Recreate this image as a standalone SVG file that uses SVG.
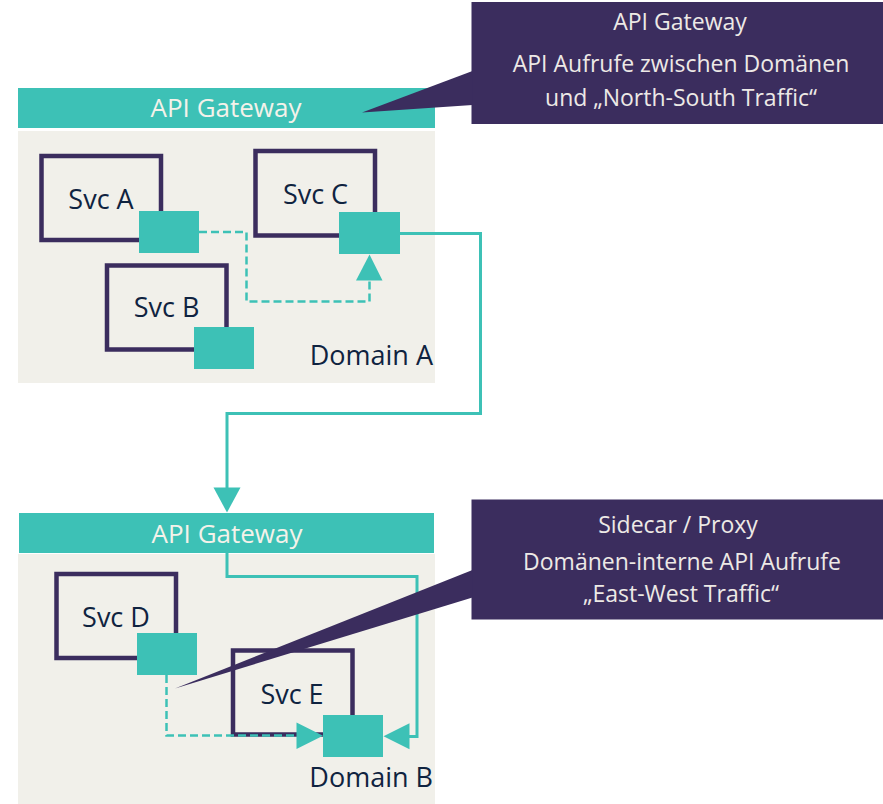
<svg xmlns="http://www.w3.org/2000/svg" width="883" height="804" viewBox="0 0 883 804">
<style>
.bg{fill:#f1f0ea}
.gw{fill:#3dc1b6}
.gwt{fill:#f4f2ea;font-family:"Open Sans","Liberation Sans",sans-serif;font-size:26px;text-anchor:middle}
.svc{fill:none;stroke:#3b2d5e;stroke-width:4.5}
.sc{fill:#3dc1b6}
.t{fill:#0f2340;font-family:"Open Sans","Liberation Sans",sans-serif;font-size:27px;text-anchor:middle}
.dom{fill:#0f2340;font-family:"Open Sans","Liberation Sans",sans-serif;font-size:27px;text-anchor:end}
.co{fill:#3b2d5e}
.ct{fill:#ede9e6;font-family:"Open Sans","Liberation Sans",sans-serif;font-size:23px;text-anchor:middle}
.solid{fill:none;stroke:#3dc1b6;stroke-width:3}
.dash{fill:none;stroke:#3dc1b6;stroke-width:2.5;stroke-dasharray:8,4}
.ah{fill:#3dc1b6}
</style>
<g id="domainA">
<rect class="bg" x="18" y="131" width="417" height="252"/>
<text class="dom" x="433" y="365">Domain A</text>
</g>
<g id="gatewayA">
<rect class="gw" x="18" y="88" width="417" height="40"/>
<text class="gwt" x="226" y="117">API Gateway</text>
</g>
<g id="domainB">
<rect class="bg" x="18" y="554" width="417" height="250"/>
<text class="dom" x="433" y="787">Domain B</text>
</g>
<g id="gatewayB">
<rect class="gw" x="19" y="513" width="415" height="40"/>
<text class="gwt" x="227" y="543">API Gateway</text>
</g>
<g id="svcA">
<rect class="svc" x="41.5" y="156" width="119.5" height="84"/>
<text class="t" x="101" y="209">Svc A</text>
<rect class="sc" x="139" y="211" width="60" height="42"/>
</g>
<g id="svcC">
<rect class="svc" x="255.5" y="151" width="119.5" height="84.5"/>
<text class="t" x="315.5" y="204">Svc C</text>
<rect class="sc" x="339" y="212" width="61" height="42"/>
</g>
<g id="svcB">
<rect class="svc" x="107" y="265.5" width="119.5" height="84"/>
<text class="t" x="166.5" y="317">Svc B</text>
<rect class="sc" x="194" y="327" width="60" height="42"/>
</g>
<g id="svcD">
<rect class="svc" x="56.5" y="574" width="119.5" height="84"/>
<text class="t" x="116" y="627">Svc D</text>
<rect class="sc" x="137" y="633" width="60" height="42"/>
</g>
<g id="svcE">
<rect class="svc" x="233" y="650.5" width="119.5" height="84"/>
<text class="t" x="292" y="704">Svc E</text>
</g>
<g id="connectors">
<polyline class="dash" points="199,232 246.5,232 246.5,301.5 369.5,301.5 369.5,280"/>
<polygon class="ah" points="369.5,254.5 356,280.5 382.5,280.5"/>
<polyline class="solid" points="400,233.5 480.5,233.5 480.5,413.5 227,413.5 227,488"/>
<polygon class="ah" points="227,512.5 213.5,487.5 240.5,487.5"/>
<polyline class="dash" points="166.5,675 166.5,735.5 297,735.5"/>
<polygon class="ah" points="323,735.8 296.5,722.5 296.5,749"/>
<polyline class="solid" points="227,553 227,576.5 417,576.5 417,736.5 409,736.5"/>
<polygon class="ah" points="383.5,736.3 409.5,723.3 409.5,749.3"/>
</g>
<g id="sidecarE">
<rect class="sc" x="323" y="715" width="60" height="42"/>
</g>
<g id="calloutGateway">
<rect class="co" x="471.5" y="2" width="411.5" height="122"/>
<polygon class="co" points="472.5,71 362,112.5 472.5,105"/>
<text class="ct" x="680" y="30">API Gateway</text>
<text class="ct" x="681" y="72">API Aufrufe zwischen Domänen</text>
<text class="ct" x="681" y="106">und „North-South Traffic“</text>
</g>
<g id="calloutSidecar">
<rect class="co" x="471.5" y="499.5" width="411.5" height="120"/>
<polygon class="co" points="472.5,570 175,688.5 472.5,597.5"/>
<text class="ct" x="678" y="532.5">Sidecar / Proxy</text>
<text class="ct" x="682" y="570">Domänen-interne API Aufrufe</text>
<text class="ct" x="681" y="602">„East-West Traffic“</text>
</g>
</svg>
